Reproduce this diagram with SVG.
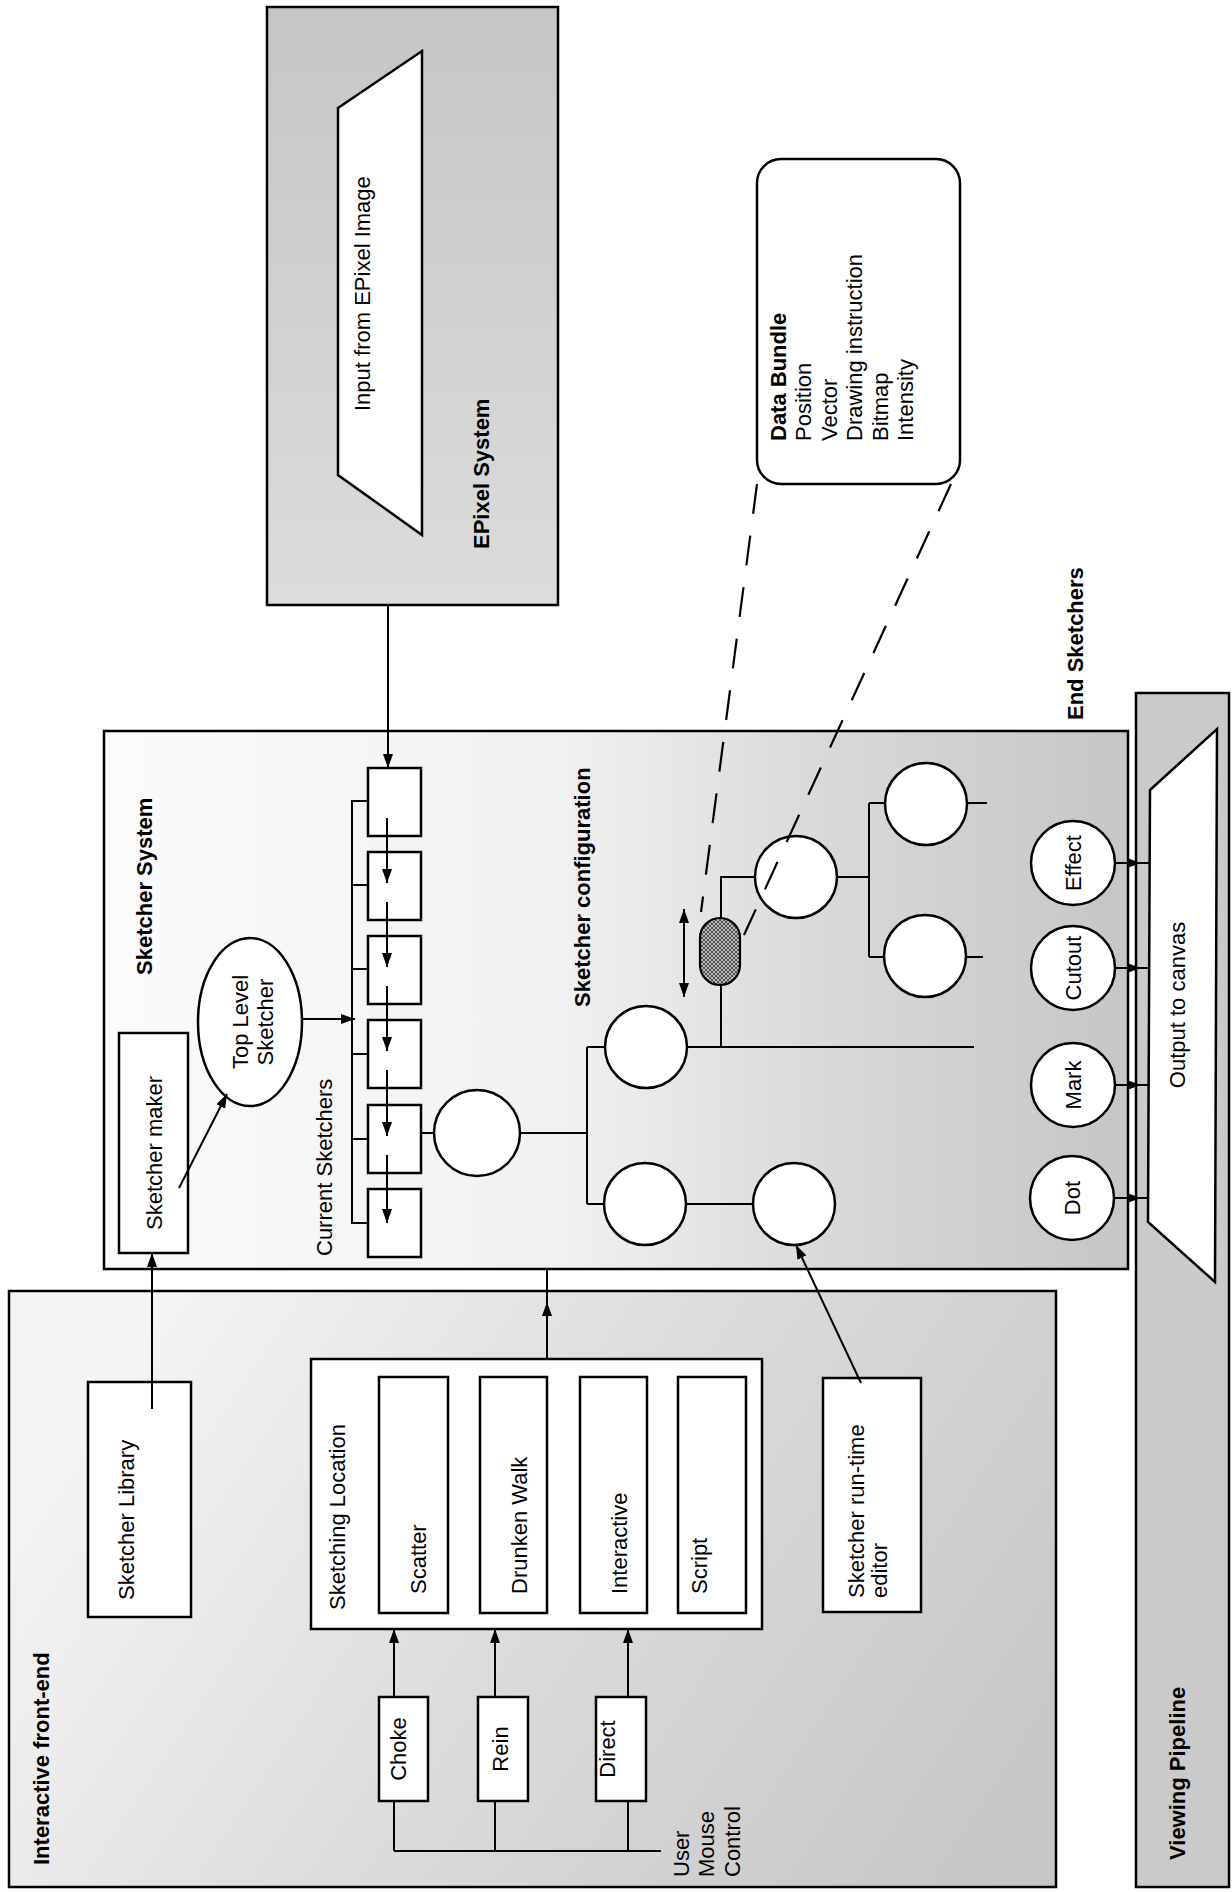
<svg xmlns="http://www.w3.org/2000/svg" width="1232" height="1892" viewBox="0 0 1232 1892">
<style>
.t{font-family:"Liberation Sans",Arial,sans-serif;font-size:22px;fill:#000}
.b{font-weight:bold}
.m{text-anchor:middle}
.bx{fill:#fff;stroke:#000;stroke-width:2.5}
.ln{fill:none;stroke:#000;stroke-width:2}
.ar{fill:none;stroke:#000;stroke-width:2;marker-end:url(#ah)}
.dash{fill:none;stroke:#000;stroke-width:2.2;stroke-dasharray:30 22}
</style>
<defs>
<marker id="ah" viewBox="0 0 14 10" refX="14" refY="5" markerWidth="14" markerHeight="10" markerUnits="userSpaceOnUse" orient="auto"><path d="M0,0 L14,5 L0,10 z" fill="#000"/></marker>
<marker id="ahs" viewBox="0 0 14 10" refX="14" refY="5" markerWidth="14" markerHeight="10" markerUnits="userSpaceOnUse" orient="auto-start-reverse"><path d="M0,0 L14,5 L0,10 z" fill="#000"/></marker>
<linearGradient id="gEP" x1="0" y1="0" x2="0" y2="1"><stop offset="0" stop-color="#c6c6c6"/><stop offset="1" stop-color="#dcdcdc"/></linearGradient>
<linearGradient id="gSS" gradientUnits="userSpaceOnUse" x1="104" y1="0" x2="1128" y2="0"><stop offset="0" stop-color="#fbfbfb"/><stop offset="0.45" stop-color="#f1f1f1"/><stop offset="0.7" stop-color="#d9d9d9"/><stop offset="1" stop-color="#c6c6c6"/></linearGradient>
<linearGradient id="gIF" gradientUnits="userSpaceOnUse" x1="150" y1="1320" x2="1000" y2="1880"><stop offset="0" stop-color="#f4f4f4"/><stop offset="0.5" stop-color="#dadada"/><stop offset="1" stop-color="#c6c6c6"/></linearGradient>
<pattern id="hatch" width="4" height="4" patternUnits="userSpaceOnUse"><rect width="4" height="4" fill="#bbb"/><path d="M0,0 L4,4 M4,0 L0,4" stroke="#333" stroke-width="0.8"/></pattern>
</defs>
<rect width="1232" height="1892" fill="#fff"/>

<g id="epixel-system">
<rect x="267" y="7" width="291" height="598" fill="url(#gEP)" stroke="#000" stroke-width="2.5"/>
<polygon points="338,108 422,51 422,535 338,475" class="bx"/>
<text class="t" transform="translate(370,411) rotate(-90)">Input from EPixel Image</text>
<text class="t b" transform="translate(489,549) rotate(-90)">EPixel System</text>
</g>

<g id="data-bundle">
<rect x="757" y="159" width="203" height="325" rx="24" class="bx"/>
<text class="t b" transform="translate(786,441) rotate(-90)">Data Bundle</text>
<text class="t" transform="translate(811,441) rotate(-90)">Position</text>
<text class="t" transform="translate(837,441) rotate(-90)">Vector</text>
<text class="t" transform="translate(862,441) rotate(-90)">Drawing instruction</text>
<text class="t" transform="translate(888,441) rotate(-90)">Bitmap</text>
<text class="t" transform="translate(913,441) rotate(-90)">Intensity</text>
</g>

<g id="viewing-pipeline">
<rect x="1136" y="693" width="93" height="1194" fill="#cacaca" stroke="#000" stroke-width="2.5"/>
<text class="t b" transform="translate(1185,1860) rotate(-90)">Viewing Pipeline</text>
</g>

<g id="sketcher-system">
<rect x="104" y="731" width="1024" height="538" fill="url(#gSS)" stroke="#000" stroke-width="2.5"/>
<text class="t b" transform="translate(152,975) rotate(-90)">Sketcher System</text>
<text class="t" transform="translate(332,1256) rotate(-90)">Current Sketchers</text>
<text class="t b" transform="translate(590,1007) rotate(-90)">Sketcher configuration</text>
</g>

<g id="end-sketchers-label">
<text class="t b" transform="translate(1083,720) rotate(-90)">End Sketchers</text>
</g>

<g id="interactive-front-end">
<rect x="9" y="1291" width="1047" height="596" fill="url(#gIF)" stroke="#000" stroke-width="2.5"/>
<text class="t b" transform="translate(49,1865) rotate(-90)">Interactive front-end</text>
</g>

<g id="output-to-canvas">
<polygon points="1150,790 1217,729 1215,1282 1148,1222" class="bx"/>
<text class="t m" transform="translate(1185,1005) rotate(-90)">Output to canvas</text>
</g>

<g id="sketcher-maker">
<rect x="119" y="1033" width="69" height="220" class="bx"/>
<text class="t m" transform="translate(162,1153) rotate(-90)">Sketcher maker</text>
</g>

<g id="top-level-sketcher">
<ellipse cx="250" cy="1022" rx="52" ry="84" class="bx"/>
<text class="t m" transform="translate(248,1022) rotate(-90)">Top Level</text>
<text class="t m" transform="translate(273,1022) rotate(-90)">Sketcher</text>
</g>

<g id="current-sketchers">
<rect x="368" y="768" width="53" height="68" class="bx"/>
<rect x="368" y="852" width="53" height="68" class="bx"/>
<rect x="368" y="936" width="53" height="68" class="bx"/>
<rect x="368" y="1020" width="53" height="68" class="bx"/>
<rect x="368" y="1105" width="53" height="68" class="bx"/>
<rect x="368" y="1189" width="53" height="68" class="bx"/>
</g>

<g id="config-tree">
<circle cx="477" cy="1133" r="43" class="bx"/>
<circle cx="646" cy="1047" r="41" class="bx"/>
<circle cx="645" cy="1204" r="41" class="bx"/>
<circle cx="794" cy="1204" r="41" class="bx"/>
<circle cx="796" cy="877" r="41" class="bx"/>
<circle cx="926" cy="804" r="41" class="bx"/>
<circle cx="925" cy="956" r="41" class="bx"/>
</g>

<g id="data-capsule">
<rect x="700" y="918" width="40" height="67" rx="20" fill="url(#hatch)" stroke="#000" stroke-width="2.2"/>
</g>

<g id="end-sketchers">
<circle cx="1073" cy="863" r="42" class="bx"/>
<text class="t m" transform="translate(1081,863) rotate(-90)">Effect</text>
<circle cx="1073" cy="968" r="42" class="bx"/>
<text class="t m" transform="translate(1081,968) rotate(-90)">Cutout</text>
<circle cx="1073" cy="1085" r="42" class="bx"/>
<text class="t m" transform="translate(1081,1085) rotate(-90)">Mark</text>
<circle cx="1072" cy="1198" r="42" class="bx"/>
<text class="t m" transform="translate(1080,1198) rotate(-90)">Dot</text>
</g>

<g id="sketcher-library">
<rect x="88" y="1382" width="103" height="235" class="bx"/>
<text class="t" transform="translate(134,1600) rotate(-90)">Sketcher Library</text>
</g>

<g id="sketching-location">
<rect x="311" y="1359" width="451" height="270" class="bx"/>
<text class="t" transform="translate(345,1610) rotate(-90)">Sketching Location</text>
<rect x="379" y="1377" width="69" height="236" class="bx"/>
<text class="t" transform="translate(426,1594) rotate(-90)">Scatter</text>
<rect x="480" y="1377" width="67" height="236" class="bx"/>
<text class="t" transform="translate(527,1594) rotate(-90)">Drunken Walk</text>
<rect x="580" y="1377" width="67" height="236" class="bx"/>
<text class="t" transform="translate(627,1594) rotate(-90)">Interactive</text>
<rect x="678" y="1377" width="68" height="236" class="bx"/>
<text class="t" transform="translate(707,1594) rotate(-90)">Script</text>
</g>

<g id="choke">
<rect x="379" y="1697" width="49" height="104" class="bx"/>
<text class="t m" transform="translate(406,1749) rotate(-90)">Choke</text>
</g>
<g id="rein">
<rect x="478" y="1697" width="50" height="104" class="bx"/>
<text class="t m" transform="translate(508,1749) rotate(-90)">Rein</text>
</g>
<g id="direct">
<rect x="596" y="1697" width="50" height="104" class="bx"/>
<text class="t m" transform="translate(615,1749) rotate(-90)">Direct</text>
</g>

<g id="runtime-editor">
<rect x="823" y="1378" width="98" height="234" class="bx"/>
<text class="t" transform="translate(864,1598) rotate(-90)">Sketcher run-time</text>
<text class="t" transform="translate(887,1598) rotate(-90)">editor</text>
</g>

<g id="user-mouse-control">
<text class="t" transform="translate(689,1877) rotate(-90)">User</text>
<text class="t" transform="translate(714,1877) rotate(-90)">Mouse</text>
<text class="t" transform="translate(740,1877) rotate(-90)">Control</text>
</g>

<g id="connectors">
<path class="ar" d="M388,605 L388,768"/>
<path class="ar" d="M387,818 L387,883"/>
<path class="ar" d="M387,902 L387,967"/>
<path class="ar" d="M387,986 L387,1051"/>
<path class="ar" d="M387,1070 L387,1136"/>
<path class="ar" d="M387,1155 L387,1223"/>
<path class="ln" d="M368,801 L352,801 L352,1223 L368,1223 M352,885 L368,885 M352,969 L368,969 M352,1054 L368,1054 M352,1139 L368,1139"/>
<path class="ar" d="M302,1019 L355,1019"/>
<path class="ar" d="M179,1188 L227,1094"/>
<path class="ar" d="M152,1409 L152,1253"/>
<path class="ln" d="M421,1133 L434,1133 M520,1133 L587,1133 M587,1047 L587,1204 M587,1047 L605,1047 M587,1204 L604,1204 M686,1204 L753,1204 M687,1047 L974,1047 M721,1047 L721,985 M721,918 L721,877 L755,877 M837,877 L869,877 M869,803 L869,957 M869,803 L885,803 M869,957 L884,957 M967,803 L987,803 M966,957 L983,957"/>
<path class="ln" d="M684,909 L684,997" marker-start="url(#ahs)" marker-end="url(#ah)"/>
<path class="dash" d="M757,484 L701,912"/>
<path class="dash" d="M951,484 L744,935"/>
<path class="ar" d="M861,1383 L796,1245"/>
<path class="ln" d="M547,1359 L547,1269"/>
<path class="ar" d="M547,1359 L547,1302"/>
<path class="ar" d="M394,1697 L394,1629"/>
<path class="ar" d="M495,1697 L495,1629"/>
<path class="ar" d="M628,1697 L628,1629"/>
<path class="ln" d="M394,1801 L394,1851 M495,1801 L495,1851 M628,1801 L628,1851 M394,1851 L661,1851"/>
<path class="ln" d="M1115,863 L1150,863 M1115,968 L1149,968 M1115,1085 L1149,1085 M1114,1198 L1148,1198"/>
<path class="ar" d="M1115,863 L1141,863"/>
<path class="ar" d="M1115,968 L1141,968"/>
<path class="ar" d="M1115,1085 L1141,1085"/>
<path class="ar" d="M1114,1198 L1141,1198"/>
</g>
</svg>
